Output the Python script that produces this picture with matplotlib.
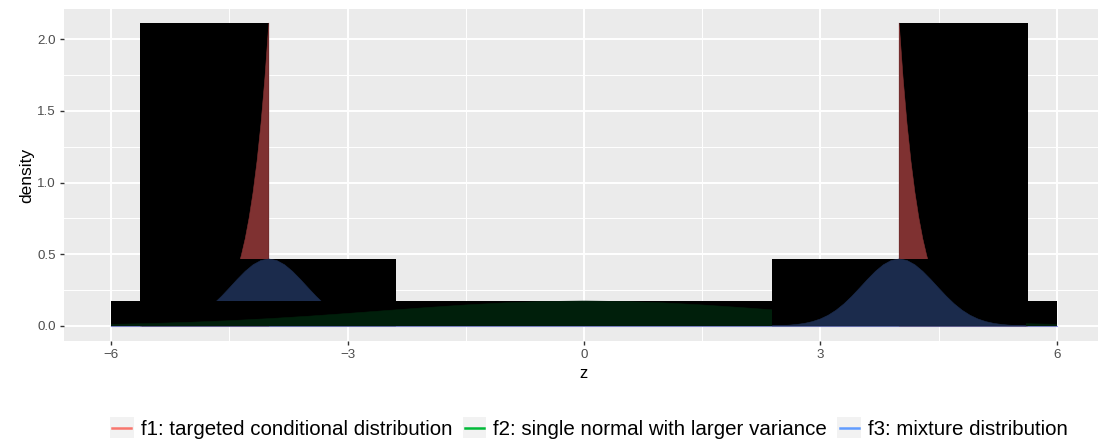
import matplotlib
matplotlib.use("Agg")
import matplotlib.pyplot as plt
from matplotlib.patches import Rectangle
from matplotlib.lines import Line2D
from matplotlib.legend_handler import HandlerLine2D

plt.rcParams['font.family'] = ['Liberation Sans', 'DejaVu Sans']

# f1: density beyond the cut-off at |z| = 4 (offsets measured from the cut)
f1_cut = 4.0
f1_offset = [0.0, 0.05, 0.1, 0.15, 0.2, 0.25, 0.3, 0.35, 0.4, 0.5, 0.6,
             0.7, 0.8, 0.9, 1.0, 1.2, 1.4, 1.63]
f1_density = [2.113, 1.728, 1.409, 1.147, 0.931, 0.754, 0.608, 0.490, 0.394,
              0.252, 0.160, 0.101, 0.063, 0.039, 0.024, 0.008, 0.003, 0.001]

# f2: single wide normal
f2_z = [-6.0, -5.5, -5.0, -4.5, -4.0, -3.5, -3.0, -2.5, -2.0, -1.5, -1.0, -0.5,
        0.0, 0.5, 1.0, 1.5, 2.0, 2.5, 3.0, 3.5, 4.0, 4.5, 5.0, 5.5, 6.0]
f2_density = [0.0109, 0.0170, 0.0255, 0.0367, 0.0508, 0.0678, 0.0871, 0.1076,
              0.1279, 0.1464, 0.1611, 0.1707, 0.1740, 0.1707, 0.1611, 0.1464,
              0.1279, 0.1076, 0.0871, 0.0678, 0.0508, 0.0367, 0.0255, 0.0170,
              0.0109]

# f3: two bumps centred at -4 and 4 (one half-profile, offsets from centre)
f3_center = [-4.0, 4.0]
f3_offset = [0.0, 0.1, 0.2, 0.3, 0.4, 0.5, 0.6, 0.7, 0.8, 0.9, 1.0, 1.1, 1.2,
             1.3, 1.4, 1.5, 1.61]
f3_density = [0.467, 0.4565, 0.4266, 0.3809, 0.3251, 0.2652, 0.2067, 0.1540,
              0.1097, 0.0747, 0.0486, 0.0302, 0.0179, 0.0102, 0.0055, 0.0029,
              0.0013]

labels = ["f1: targeted conditional distribution",
          "f2: single normal with larger variance",
          "f3: mixture distribution"]
line_colors = ["#F8766D", "#00BA38", "#619CFF"]
fill_colors = ["#7F3131", "#001F0B", "#1B2B4C"]

x_ticks = [-6, -3, 0, 3, 6]
y_ticks = [0.0, 0.5, 1.0, 1.5, 2.0]


def draw_area(ax, xs, ys, color):
    # black bounding box of the area, then the area itself
    x0, x1 = min(xs), max(xs)
    top = max(ys)
    ax.add_patch(Rectangle((x0, 0), x1 - x0, top, facecolor='black',
                           edgecolor='none', zorder=3))
    ax.fill([x0] + list(xs) + [x1], [0] + list(ys) + [0], color=color,
            linewidth=0.4, edgecolor=color, zorder=3)


fig = plt.figure(figsize=(10.98, 4.44), dpi=100)
ax = fig.add_axes([64 / 1098, 103 / 444, 1040 / 1098, 332 / 444])
ax.set_facecolor('#EBEBEB')
for s in ax.spines.values():
    s.set_visible(False)

# f1 pieces
f1_right_z = [f1_cut + d for d in f1_offset]
f1_left_z = [-f1_cut - d for d in f1_offset][::-1]
f1_left_d = f1_density[::-1]


# f3 pieces
def bump(c):
    zs = [c - d for d in f3_offset[::-1]] + [c + d for d in f3_offset[1:]]
    ds = f3_density[::-1] + f3_density[1:]
    return zs, ds


f3_left_z, f3_left_d = bump(f3_center[0])
f3_right_z, f3_right_d = bump(f3_center[1])

ax.plot([f2_z[0], f2_z[-1]], [0, 0], color='#9A9AF2', lw=0.8, zorder=2)

draw_area(ax, f1_left_z, f1_left_d, fill_colors[0])
draw_area(ax, f1_right_z, f1_density, fill_colors[0])
draw_area(ax, f3_left_z, f3_left_d, fill_colors[2])
draw_area(ax, f2_z, f2_density, fill_colors[1])
draw_area(ax, f3_right_z, f3_right_d, fill_colors[2])

ax.set_xlim(-6.6, 6.6)
ax.set_ylim(-0.105, 2.21)
ax.set_xticks(x_ticks)
ax.set_xticklabels(["\u2212" + str(-t) if t < 0 else str(t) for t in x_ticks])
ax.set_yticks(y_ticks)
ax.set_yticklabels([f"{t:.1f}" for t in y_ticks])
ax.set_xticks([-4.5, -1.5, 1.5, 4.5], minor=True)
ax.set_yticks([0.25, 0.75, 1.25, 1.75], minor=True)
ax.grid(which='major', color='white', lw=1.4)
ax.grid(which='minor', color='white', lw=0.7)
ax.set_axisbelow(True)
ax.tick_params(which='major', length=3, width=1.0, color='#333333',
               labelcolor='#4D4D4D', labelsize=9.6, pad=3)
ax.tick_params(which='minor', length=0)
ax.set_xlabel("z", fontsize=12, labelpad=3)
ax.set_ylabel("density", fontsize=12.5, labelpad=2)


class KeyHandler(HandlerLine2D):
    def create_artists(self, legend, orig_handle, xdescent, ydescent,
                       width, height, fontsize, trans):
        bg = Rectangle((-xdescent, -ydescent), width, height,
                       facecolor='#F2F2F2', edgecolor='none', transform=trans)
        y = -ydescent + height / 2
        ln = Line2D([-xdescent + 0.1 * width, -xdescent + 0.9 * width], [y, y],
                    color=orig_handle.get_color(), lw=1.8, transform=trans)
        return [bg, ln]


handles = [Line2D([], [], color=c) for c in line_colors]
fig.legend(handles, labels, loc='center', ncol=3,
           bbox_to_anchor=(589 / 1098, 1 - 428 / 444), frameon=False,
           fontsize=14.8, handlelength=1.15, handleheight=1.15,
           handletextpad=0.35, columnspacing=0.5, borderpad=0,
           handler_map={Line2D: KeyHandler()})

fig.savefig("out.png", dpi=100)
